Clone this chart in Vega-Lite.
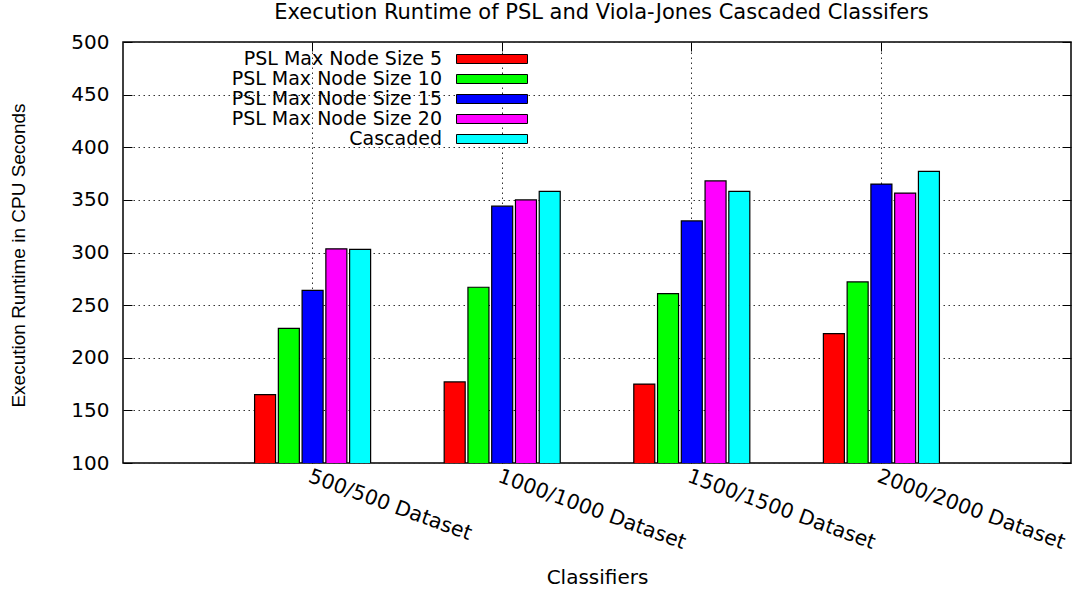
{
  "$schema": "https://vega.github.io/schema/vega-lite/v6.json",
  "width": 948,
  "height": 421,
  "autosize": {"type": "none"},
  "padding": {"left": 123, "top": 42, "right": 9, "bottom": 127},
  "background": "white",
  "config": {
    "view": {"stroke": "black", "strokeWidth": 1.5},
    "axis": {"tickColor": "black", "tickWidth": 1, "labelColor": "black", "titleColor": "black"}
  },
  "data": {
    "values": [
      {"dataset": "500/500 Dataset", "series": "PSL Max Node Size 5", "runtime": 165},
      {"dataset": "500/500 Dataset", "series": "PSL Max Node Size 10", "runtime": 228},
      {"dataset": "500/500 Dataset", "series": "PSL Max Node Size 15", "runtime": 264},
      {"dataset": "500/500 Dataset", "series": "PSL Max Node Size 20", "runtime": 303.5},
      {"dataset": "500/500 Dataset", "series": "Cascaded", "runtime": 303},
      {"dataset": "1000/1000 Dataset", "series": "PSL Max Node Size 5", "runtime": 177},
      {"dataset": "1000/1000 Dataset", "series": "PSL Max Node Size 10", "runtime": 267},
      {"dataset": "1000/1000 Dataset", "series": "PSL Max Node Size 15", "runtime": 344},
      {"dataset": "1000/1000 Dataset", "series": "PSL Max Node Size 20", "runtime": 350},
      {"dataset": "1000/1000 Dataset", "series": "Cascaded", "runtime": 358},
      {"dataset": "1500/1500 Dataset", "series": "PSL Max Node Size 5", "runtime": 175},
      {"dataset": "1500/1500 Dataset", "series": "PSL Max Node Size 10", "runtime": 261},
      {"dataset": "1500/1500 Dataset", "series": "PSL Max Node Size 15", "runtime": 330},
      {"dataset": "1500/1500 Dataset", "series": "PSL Max Node Size 20", "runtime": 368},
      {"dataset": "1500/1500 Dataset", "series": "Cascaded", "runtime": 358},
      {"dataset": "2000/2000 Dataset", "series": "PSL Max Node Size 5", "runtime": 223},
      {"dataset": "2000/2000 Dataset", "series": "PSL Max Node Size 10", "runtime": 272},
      {"dataset": "2000/2000 Dataset", "series": "PSL Max Node Size 15", "runtime": 365},
      {"dataset": "2000/2000 Dataset", "series": "PSL Max Node Size 20", "runtime": 356.5},
      {"dataset": "2000/2000 Dataset", "series": "Cascaded", "runtime": 377}
    ]
  },
  "layer": [
    {
      "mark": {"type": "bar", "stroke": "black", "strokeWidth": 1.2, "clip": true},
      "encoding": {
        "x": {
          "field": "dataset",
          "type": "nominal",
          "sort": null,
          "scale": {
            "domain": ["500/500 Dataset", "1000/1000 Dataset", "1500/1500 Dataset", "2000/2000 Dataset"],
            "paddingInner": 0.388,
            "paddingOuter": 0.694
          },
          "axis": {
            "orient": "bottom",
            "tickSize": -9,
            "bandPosition": 0.5,
            "labelAngle": 20,
            "labelAlign": "left",
            "labelBaseline": "top",
            "labelPadding": 12,
            "labelFont": "DejaVu Sans",
            "labelFontSize": 20.5,
            "labelLimit": 400,
            "grid": true,
            "gridDash": [1.5, 3.5],
            "gridColor": "#333333",
            "gridWidth": 1,
            "domain": false,
            "title": "Classifiers",
            "titleFont": "DejaVu Sans",
            "titleFontSize": 20,
            "titleFontWeight": "normal",
            "titleY": 104,
            "titleBaseline": "top"
          }
        },
        "xOffset": {
          "field": "series",
          "type": "nominal",
          "sort": null,
          "scale": {
            "domain": ["PSL Max Node Size 5", "PSL Max Node Size 10", "PSL Max Node Size 15", "PSL Max Node Size 20", "Cascaded"],
            "paddingInner": 0.116,
            "paddingOuter": 0
          }
        },
        "y": {
          "field": "runtime",
          "type": "quantitative",
          "scale": {"domain": [100, 500], "nice": false, "zero": false},
          "axis": {
            "values": [100, 150, 200, 250, 300, 350, 400, 450, 500],
            "tickSize": -9,
            "labelFont": "DejaVu Sans",
            "labelFontSize": 20,
            "labelPadding": 23,
            "grid": true,
            "gridDash": [1.5, 3.5],
            "gridColor": "#333333",
            "gridWidth": 1,
            "domain": false,
            "title": "Execution Runtime in CPU Seconds",
            "titleFont": "Liberation Sans",
            "titleFontSize": 19,
            "titleFontWeight": "normal",
            "titleX": -105,
            "titleY": 213,
            "titleAlign": "center",
            "titleBaseline": "middle",
            "titleAngle": -90
          }
        },
        "color": {
          "field": "series",
          "type": "nominal",
          "scale": {
            "domain": ["PSL Max Node Size 5", "PSL Max Node Size 10", "PSL Max Node Size 15", "PSL Max Node Size 20", "Cascaded"],
            "range": ["#ff0000", "#00ff00", "#0000ff", "#ff00ff", "#00ffff"]
          },
          "legend": {
            "orient": "none",
            "legendX": 359.5,
            "legendY": 7.5,
            "title": null,
            "symbolType": "M-7.1,-0.9H7.1V0.9H-7.1Z",
            "symbolSize": 100,
            "symbolStrokeColor": "black",
            "symbolStrokeWidth": 1,
            "labelAlign": "right",
            "labelOffset": -59.5,
            "labelFont": "DejaVu Sans",
            "labelFontSize": 19,
            "labelColor": "black",
            "labelLimit": 400,
            "rowPadding": -1.5,
            "padding": 0
          }
        }
      }
    },
    {
      "mark": {"type": "bar", "opacity": 0},
      "encoding": {
        "x": {
          "field": "dataset",
          "type": "nominal",
          "sort": null,
          "axis": {
            "orient": "top",
            "tickSize": -9,
            "bandPosition": 0.5,
            "labels": false,
            "domain": false,
            "grid": false,
            "title": "Execution Runtime of PSL and Viola-Jones Cascaded Classifers",
            "titleFont": "DejaVu Sans",
            "titleFontSize": 21,
            "titleFontWeight": "normal",
            "titleX": 478,
            "titleY": -24,
            "titleAlign": "center",
            "titleBaseline": "alphabetic"
          }
        },
        "y": {
          "field": "runtime",
          "type": "quantitative",
          "axis": {
            "orient": "right",
            "values": [100, 150, 200, 250, 300, 350, 400, 450, 500],
            "tickSize": -9,
            "labels": false,
            "domain": false,
            "grid": false,
            "title": null
          }
        }
      }
    }
  ],
  "resolve": {"axis": {"x": "independent", "y": "independent"}}
}
